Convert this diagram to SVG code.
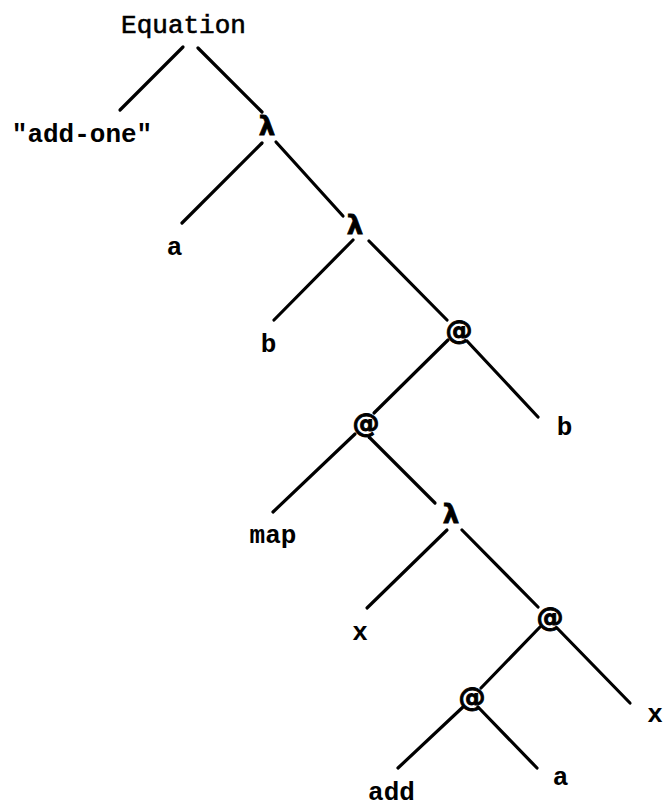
<svg xmlns="http://www.w3.org/2000/svg" width="663" height="807" viewBox="0 0 663 807">
  <style>
    .lbl { font-family: "Liberation Mono", "Courier New", monospace; font-size: 26px; font-weight: bold; fill: #000; text-anchor: middle; }
    .title { font-weight: normal; stroke: #000; stroke-width: 0.6; }
    .lam { font-family: "DejaVu Sans", "Liberation Sans", sans-serif; font-size: 26px; font-weight: bold; fill: #000; stroke: #000; stroke-width: 0.8; text-anchor: middle; }
    .app { font-family: "DejaVu Sans", "Liberation Sans", sans-serif; font-size: 27px; font-weight: bold; fill: #000; stroke: #000; stroke-width: 0.9; text-anchor: middle; }
    .edge { stroke: #000; stroke-width: 3.2; stroke-linecap: round; fill: none; }
  </style>
  <rect width="663" height="807" fill="#fff"/>

  <!-- tree edges -->
  <g id="connectors">
    <line class="edge" x1="183" y1="47" x2="120" y2="110"/>
    <line class="edge" x1="198" y1="48" x2="262" y2="112"/>
    <line class="edge" x1="262" y1="143" x2="182" y2="223"/>
    <line class="edge" x1="276" y1="142" x2="343" y2="216"/>
    <line class="edge" x1="353" y1="240" x2="274" y2="320"/>
    <line class="edge" x1="369" y1="241" x2="447" y2="320"/>
    <line class="edge" x1="448" y1="340" x2="374" y2="413"/>
    <line class="edge" x1="467" y1="341" x2="538" y2="417"/>
    <line class="edge" x1="355" y1="434" x2="273" y2="512"/>
    <line class="edge" x1="369" y1="437" x2="435" y2="503"/>
    <line class="edge" x1="447" y1="530" x2="367" y2="608"/>
    <line class="edge" x1="462" y1="530" x2="538" y2="607"/>
    <line class="edge" x1="540" y1="627" x2="481" y2="688"/>
    <line class="edge" x1="557" y1="628" x2="630" y2="703"/>
    <line class="edge" x1="463" y1="707" x2="398" y2="768"/>
    <line class="edge" x1="478" y1="707" x2="537" y2="768"/>
  </g>

  <g id="equation"><text class="lbl title" x="183.5" y="33">Equation</text></g>
  <g id="name"><text class="lbl" x="82" y="142">"add-one"</text></g>
  <g id="lambda1"><text class="lam" x="267" y="135">λ</text></g>
  <g id="var-a"><text class="lbl" x="174.5" y="255">a</text></g>
  <g id="lambda2"><text class="lam" x="355" y="234">λ</text></g>
  <g id="var-b"><text class="lbl" x="268.5" y="352">b</text></g>
  <g id="apply1"><text class="app" x="459" y="339">@</text></g>
  <g id="arg-b"><text class="lbl" x="564.5" y="435">b</text></g>
  <g id="apply2"><text class="app" x="366" y="432">@</text></g>
  <g id="map"><text class="lbl" x="273" y="543">map</text></g>
  <g id="lambda3"><text class="lam" x="451" y="523">λ</text></g>
  <g id="var-x"><text class="lbl" x="360" y="640">x</text></g>
  <g id="apply3"><text class="app" x="550" y="626">@</text></g>
  <g id="arg-x"><text class="lbl" x="655" y="722">x</text></g>
  <g id="apply4"><text class="app" x="472" y="706">@</text></g>
  <g id="add"><text class="lbl" x="391.5" y="800">add</text></g>
  <g id="arg-a"><text class="lbl" x="560.5" y="785">a</text></g>
</svg>
